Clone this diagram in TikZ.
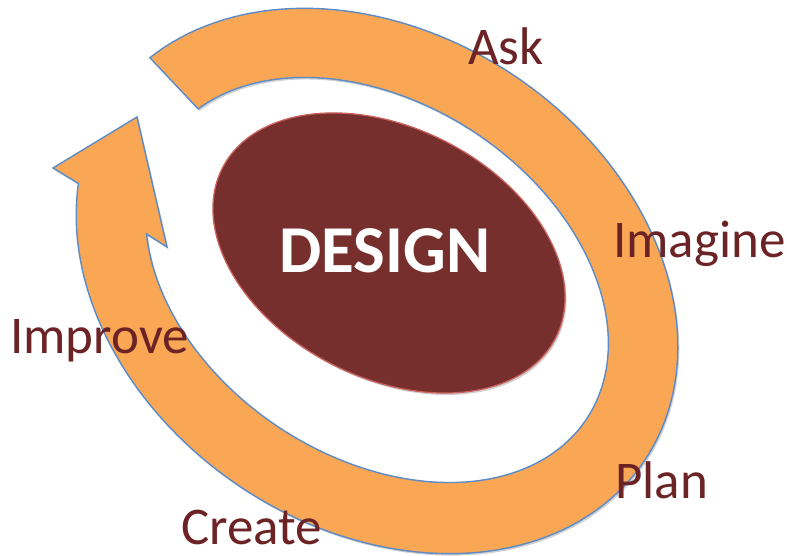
\documentclass[tikz,border=0pt]{standalone}
\usepackage{fontspec}
\setmainfont{Carlito}
\usetikzlibrary{shadows}
\definecolor{ringfill}{HTML}{F9A755}
\definecolor{ringline}{HTML}{5B8BC9}
\definecolor{corefill}{HTML}{772F2D}
\definecolor{coreline}{HTML}{C9615C}
\definecolor{labelcol}{HTML}{6B2325}
\begin{document}
\begin{tikzpicture}[x=1pt,y=1pt,
  ring/.style={fill=ringfill, draw=ringline, line width=1.4pt, line join=miter,
    drop shadow={shadow xshift=1.5pt, shadow yshift=-2pt, opacity=0.18, fill=black}},
  core/.style={fill=corefill, draw=coreline, line width=1.3pt,
    drop shadow={shadow xshift=1.5pt, shadow yshift=-2pt, opacity=0.18, fill=black}},
  steplabel/.style={text=labelcol, font=\fontsize{53}{64}\selectfont, inner sep=0pt, anchor=base west},
  corelabel/.style={text=white, font=\fontsize{67}{80}\selectfont\bfseries, inner sep=0pt, anchor=base}
]
\useasboundingbox (0,0) rectangle (787,555);
\fill[white] (0,0) rectangle (787,555);
% arrowhead points
\coordinate (barbO) at (53,387);
\coordinate (tip) at (137,438);
\coordinate (barbI) at (167,308);
% circular arrow ring
\path[ring]
  plot[domain=0:326, samples=160, variable=\s]
    ({377+268.1*cos(166-\s)+136.5*sin(166-\s)}, {274-178.8*cos(166-\s)+205.9*sin(166-\s)})
  -- (barbO) -- (tip) -- (barbI)
  -- plot[domain=-150:165.5, samples=160, variable=\s]
    ({377+209.9*cos(\s)+97.4*sin(\s)}, {275-138.5*cos(\s)+147.8*sin(\s)})
  -- cycle;
% central ellipse
\coordinate (c) at (389,302);
\path[core, rotate around={-27:(c)}] (c) ellipse [x radius=187, y radius=125];
\node[corelabel] (design) at (385,282) {DESIGN};
% step labels
\node[steplabel] (ask) at (468,490) {Ask};
\node[steplabel] (imagine) at (613,297) {Imagine};
\node[steplabel] (plan) at (615,57) {Plan};
\node[steplabel] (create) at (181,11) {Create};
\node[steplabel] (improve) at (10,202) {Improve};
\end{tikzpicture}
\end{document}
